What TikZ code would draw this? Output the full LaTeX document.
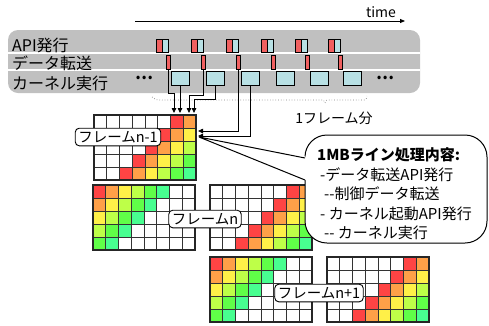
\documentclass[tikz,border=0pt]{standalone}
\usepackage{fontspec}
\setmainfont{Noto Sans CJK JP}
\usetikzlibrary{arrows.meta}

\definecolor{panelgray}{RGB}{192,192,192}
\definecolor{apired}{RGB}{240,96,96}
\definecolor{lightcyan}{RGB}{184,224,228}
\definecolor{heat0}{RGB}{255,68,68}
\definecolor{heat1}{RGB}{255,160,72}
\definecolor{heat2}{RGB}{255,240,72}
\definecolor{heat3}{RGB}{190,255,72}
\definecolor{heat4}{RGB}{96,255,72}
\definecolor{heat5}{RGB}{72,255,144}

\tikzset{
  cell/.style={draw=black!80, line width=0.6pt},
  blk/.style={draw, line width=1pt, inner sep=0pt, minimum height=13pt},
  framelabel/.style={draw, fill=white, rounded corners=4pt, line width=0.9pt, inner sep=3pt, font=\fontsize{14.5}{16}\selectfont},
  arr/.style={-{Triangle[length=5pt,width=4.5pt]}, line width=0.8pt},
}

% one 8x5 block of macroblocks, #3 shifts the diagonal
\newcommand{\linegrid}[3]{%
  \foreach \c in {0,...,7}{
    \foreach \r in {0,...,4}{
      \pgfmathtruncatemacro\idx{\c+\r+#3}
      \ifnum\idx<0 \def\cellcol{white}\else\ifnum\idx>5 \def\cellcol{white}\else\def\cellcol{heat\idx}\fi\fi
      \draw[cell, fill=\cellcol] (#1+\c*12.75, #2+\r*13) rectangle ++(12.75,13);
    }
  }
  \draw[line width=1.3pt, draw=black!85] (#1,#2) rectangle ++(102,65);
}

\begin{document}
\begin{tikzpicture}[x=1pt,y=-1pt]
    \useasboundingbox (0,0) rectangle (489,325);

    \coordinate (t0) at (135,21);
    \coordinate (t1) at (405,21);
    \draw[-{Triangle[length=5pt,width=4pt]}, line width=0.8pt] (t0) -- (t1);
    \node[font=\fontsize{14}{16}\selectfont] (time) at (381,12) {time};

    \fill[panelgray, rounded corners=10pt] (8,30) rectangle (420,93);
    \draw[white, line width=1.5pt] (8,53) -- (420,53);
    \draw[white, line width=1.5pt] (8,70) -- (420,70);
    \node[anchor=west, inner sep=0pt, font=\fontsize{16}{18}\selectfont] (api) at (12,45) {API発行};
    \node[anchor=west, inner sep=0pt, font=\fontsize{16}{18}\selectfont] (xfer) at (12,63) {データ転送};
    \node[anchor=west, inner sep=0pt, font=\fontsize{16}{18}\selectfont] (kern) at (12,83) {カーネル実行};
    \node[font=\bfseries\fontsize{16}{18}\selectfont] (dotsl) at (144,78) {…};
    \node[font=\bfseries\fontsize{16}{18}\selectfont] (dotsr) at (385,78) {…};

    \foreach \ax [count=\i] in {156,191,226,261,295,328}{
      \node[blk, fill=apired, minimum width=6pt] (ar\i) at (\ax+3,45.5) {};
      \node[blk, fill=lightcyan, minimum width=6pt] (ac\i) at (\ax+9,45.5) {};
      \node[blk, fill=apired, minimum width=4pt, minimum height=14pt] (d\i) at (\ax+12,62) {};
      \node[blk, fill=lightcyan, minimum width=18pt, minimum height=14pt] (k\i) at (\ax+24,78) {};
    }

    \draw[gray, dotted, line width=0.7pt] (152,97) .. controls (155,100) .. (166,100) -- (320,100)
        .. controls (324,100) .. (325,103) .. controls (326,100) .. (330,100) -- (362,100)
        .. controls (366,100) .. (367,96);
    \node[font=\fontsize{14}{16}\selectfont] (oneframe) at (334,118) {1フレーム分};

    \linegrid{94}{115}{-6}
    \linegrid{93}{185}{0}
    \linegrid{210}{185}{-6}
    \linegrid{210}{257}{0}
    \linegrid{327}{257}{-6}

    \node[framelabel] (fprev) at (118,137) {フレームn-1};
    \node[framelabel] (fcur) at (205,219) {フレームn};
    \node[framelabel] (fnext) at (319,293) {フレームn+1};

    \draw[line width=1pt, fill=white, rounded corners=22pt] (305,135) rectangle (487,243);
    \fill[white] (199,137) -- (308,157) -- (308,181) -- cycle;
    \draw[line width=1pt] (305,158) -- (199,137) -- (305,180);
    \node[anchor=west, align=left, inner sep=0pt, font=\fontsize{15}{19.5}\selectfont] (info) at (317,194)
        {\textbf{1MBライン処理内容:}\\\hspace*{3pt}-データ転送API発行\\\hspace*{7pt}-{}-制御データ転送\\\hspace*{3pt}- カーネル起動API発行\\\hspace*{7pt}-{}- カーネル実行};

    \coordinate (in1) at (174,113);
    \coordinate (in2) at (180,113);
    \coordinate (in3) at (189,113);
    \coordinate (in4) at (194,113);
    \coordinate (in5) at (198,131);
    \coordinate (in6) at (198,136);
    \draw[arr] (d1.south) -- ++(0,24) -| (in1);
    \draw[arr] (k1.south) -- (in2);
    \draw[arr] (d2.south) -- ++(0,26) -| (in3);
    \draw[arr] (k2.south) -- ++(0,14) -| (in4);
    \draw[arr] (d3.south) |- (in5);
    \draw[arr] (k3.south) |- (in6);

\end{tikzpicture}
\end{document}
